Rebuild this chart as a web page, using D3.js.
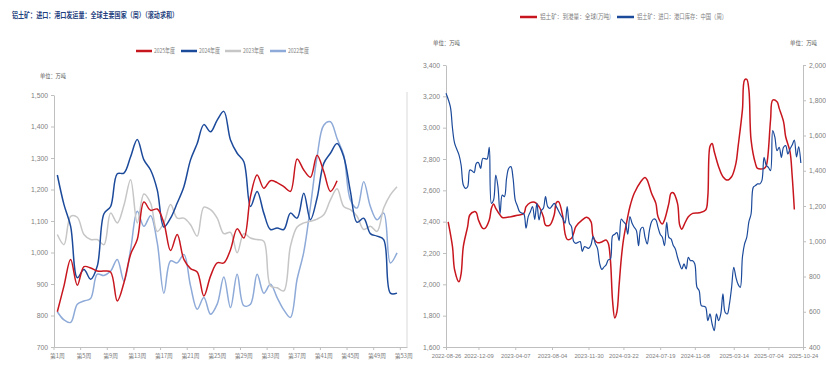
<!DOCTYPE html>
<html>
<meta charset='utf-8'>
<head>
<title>铝土矿</title>
<script src='https://d3js.org/d3.v7.min.js'></script>
<style>
body { margin: 0; background: #fff; }
text { font-family: 'Liberation Sans Narrow', 'Liberation Sans', sans-serif; fill: #808080; }
.cn { font-family: 'Noto Sans CJK SC', sans-serif; }
.axis path, .axis line { stroke: #bfbfbf; }
</style>
</head>
<body>
<svg id='chart' width='826' height='373'></svg>
<script>
// ---- left chart: weekly shipments by year ----
var weeks = d3.range(1, 54)
var weekTicks = [1, 5, 9, 13, 17, 21, 25, 29, 33, 37, 41, 45, 49, 53]
var leftTicks = [700, 800, 900, 1000, 1100, 1200, 1300, 1400, 1500]
var yearNames = ['2025年度', '2024年度', '2023年度', '2022年度']

var s2025 = [812, 894, 978, 896, 955, 951, 941, 941, 938, 846, 904, 994, 1041, 1160, 1134, 1138, 1094, 1006, 1057, 978,
  949, 938, 862, 925, 967, 967, 1009, 1075, 1046, 1178, 1246, 1204, 1228, 1222, 1209, 1194, 1297, 1262, 1239, 1309,
  1257, 1194, 1228]
var s2024 = [1246, 1152, 1083, 920, 946, 915, 957, 1123, 1146, 1250, 1252, 1304, 1359, 1294, 1262, 1199, 1081, 1109, 1157, 1209,
  1294, 1346, 1406, 1383, 1420, 1448, 1357, 1315, 1288, 1146, 1194, 1125, 1073, 1078, 1073, 1125, 1109, 1188, 1104, 1173,
  1283, 1315, 1346, 1304, 1194, 1096, 1109, 1060, 1052, 1041, 871, 871]
var s2023 = [1057, 1025, 1115, 1112, 1057, 1041, 1041, 1025, 1125, 1094, 1150, 1231, 1094, 1186, 1157, 1067, 1094, 1152, 1109, 1109,
  1088, 1052, 1144, 1136, 1109, 1060, 1064, 999, 1060, 1046, 1041, 1036, 894, 888, 878, 1020, 1081, 1094, 1099, 1106,
  1120, 1167, 1202, 1146, 1136, 1115, 1073, 1083, 1067, 1141, 1183, 1209]
var s2022 = [812, 786, 778, 836, 846, 854, 931, 927, 941, 978, 909, 1009, 1131, 1083, 1117, 1031, 871, 973, 967, 994,
  894, 820, 857, 804, 836, 922, 825, 931, 831, 836, 931, 871, 899, 857, 818, 794, 915, 1001, 1146, 1304,
  1404, 1415, 1362, 1309, 1167, 1141, 1225, 1146, 1104, 1125, 967, 999]

// ---- right chart: arrivals (right axis) and China port stock (left axis) ----
// points are [weeks since start date, value]
var startDate = '2022-08-26'
var endDate = '2025-10-24'
var dateTicks = ['2022-08-26', '2022-12-09', '2023-04-07', '2023-08-04', '2023-11-30', '2024-03-22',
  '2024-07-19', '2024-11-08', '2025-03-14', '2025-07-04', '2025-10-24']
var stockTicks = [1600, 1800, 2000, 2200, 2400, 2600, 2800, 3000, 3200, 3400]
var arrivalTicks = [400, 600, 800, 1000, 1200, 1400, 1600, 1800, 2000]
var seriesNames = ['铝土矿：到港量：全球(万吨)', '铝土矿：进口：港口库存：中国（周）']

var arrivals = [[1,1110],[3,969],[4,837],[6,770],[7,817],[8,969],[10,1083],[11,1149],[13,1168],[14,1163],[15,1121],
  [17,1073],[18,1073],[20,1121],[21,1187],[22,1211],[23,1187],[25,1149],[26,1135],[30,1139],[33,1147],[36,1158],
  [37,1196],[39,1219],[41,1221],[43,1196],[45,1139],[46,1092],[48,1092],[50,1149],[51,1219],[52,1225],[54,1139],
  [55,1045],[56,1011],[58,1017],[59,1045],[60,1083],[63,1121],[65,1136],[67,1111],[68,1026],[70,992],[72,996],
  [74,1007],[75,988],[76,893],[77,660],[78,565],[79,600],[80,750],[81,900],[82,1007],[84,1139],[85,1196],[87,1272],
  [90,1338],[92,1362],[93,1347],[95,1272],[97,1215],[98,1139],[100,1098],[101,1121],[103,1215],[104,1272],[105,1275],
  [107,1215],[108,1092],[109,1068],[110,1092],[112,1139],[114,1158],[117,1162],[120,1177],[121,1253],[122,1537],
  [123,1555],[124,1508],[126,1423],[128,1366],[130,1347],[132,1366],[134,1442],[135,1537],[137,1745],[138,1915],
  [139,1919],[140,1858],[141,1575],[143,1442],[144,1413],[147,1413],[148,1427],[150,1688],[151,1801],[153,1792],
  [154,1754],[156,1679],[157,1593],[159,1508],[160,1370],[161,1180]]
var stock = [[0,3220],[2,3134],[3,2996],[4,2900],[6,2826],[7,2760],[8,2634],[9,2613],[10,2623],[11,2730],[12,2725],
  [13,2713],[14,2772],[15,2777],[16,2740],[17,2804],[18,2802],[19,2800],[20,2875],[21,2517],[22,2538],[23,2698],
  [24,2624],[25,2453],[26,2570],[27,2560],[28,2677],[29,2741],[30,2751],[31,2677],[32,2538],[33,2500],[34,2464],
  [35,2455],[36,2449],[37,2358],[38,2432],[39,2464],[40,2496],[41,2415],[42,2517],[43,2411],[44,2470],[45,2485],
  [46,2560],[47,2496],[48,2485],[49,2500],[50,2517],[51,2496],[53,2443],[54,2420],[55,2390],[56,2496],[57,2390],
  [58,2368],[59,2273],[60,2262],[61,2268],[62,2273],[63,2210],[64,2241],[65,2235],[66,2230],[67,2251],[68,2305],
  [69,2260],[70,2230],[71,2134],[72,2096],[73,2110],[74,2124],[75,2156],[76,2162],[77,2310],[78,2320],[79,2330],
  [80,2279],[81,2417],[82,2400],[83,2385],[84,2321],[85,2432],[86,2390],[87,2364],[88,2343],[89,2247],[90,2353],
  [91,2364],[92,2300],[93,2258],[94,2343],[95,2400],[96,2417],[97,2411],[98,2364],[99,2320],[100,2300],[101,2247],
  [102,2396],[103,2300],[104,2290],[105,2250],[106,2226],[107,2173],[108,2130],[109,2098],[110,2130],[111,2098],
  [112,2173],[113,2151],[114,2151],[115,2130],[116,1981],[117,1960],[118,1864],[119,1860],[120,1854],[121,1768],
  [122,1811],[123,1747],[124,1704],[125,1811],[126,1768],[127,1811],[128,1939],[129,1822],[130,1811],[131,1875],
  [132,1981],[133,2109],[134,2045],[135,2000],[136,1981],[137,2173],[138,2258],[139,2300],[140,2400],[141,2449],
  [142,2619],[143,2630],[144,2641],[145,2641],[146,2662],[147,2811],[148,2760],[149,2747],[150,2726],[151,2981],
  [152,2939],[153,2853],[154,2875],[155,2811],[156,2875],[157,2885],[158,2832],[159,2864],[160,2889],[161,2921],
  [162,2813],[163,2877],[164,2774]]

var red = '#c8161e', blue = '#1c4a9b', grey = '#c6c6c6', lightBlue = '#8eaad8'
var svg = d3.select('#chart')
var fmt = d3.format(',')

// ================= left chart =================
var x = d3.scaleBand().domain(weeks).range([54, 407])
var bw = x.bandwidth()
var y = d3.scaleLinear().domain([700, 1500]).range([347, 95])

svg.append('text')
  .attr('class', 'cn')
  .attr('x', 12).attr('y', 18)
  .attr('textLength', 166).attr('lengthAdjust', 'spacingAndGlyphs')
  .style('font-size', '7.5px').style('font-weight', 'bold').style('fill', '#1f3f80')
  .text('铝土矿：进口：港口发运量：全球主要国家（周）（滚动求和）')

svg.append('text').attr('class', 'cn')
  .attr('x', 40).attr('y', 78)
  .attr('textLength', 26).attr('lengthAdjust', 'spacingAndGlyphs')
  .style('font-size', '5.5px').style('fill', '#555')
  .text('单位：万吨')

// right frame line
svg.append('line')
  .attr('x1', 407).attr('x2', 407).attr('y1', 92).attr('y2', 347)
  .style('stroke', '#d9d9d9')

var gy = svg.append('g').attr('class', 'axis')
  .attr('transform', 'translate(54,0)')
  .call(d3.axisLeft(y).tickValues(leftTicks).tickSize(3).tickSizeOuter(0).tickFormat(fmt))
gy.selectAll('text').style('font-size', '6.8px').style('fill', '#808080')

var gx = svg.append('g').attr('class', 'axis')
  .attr('transform', 'translate(0,347)')
  .call(d3.axisBottom(x).tickValues(weekTicks).tickSize(3).tickSizeOuter(0).tickFormat(function(d) { return '第' + d + '周' }))
gx.selectAll('.tick line').attr('x1', -bw / 2).attr('x2', -bw / 2)
gx.selectAll('text').attr('class', 'cn').attr('dy', '0.9em').style('font-size', '5.8px').style('fill', '#808080')

var weekLine = d3.line()
  .x(function(d, i) { return x(i + 1) + bw / 2 })
  .y(function(d) { return y(d) })
  .curve(d3.curveCatmullRom.alpha(0.5))

var years = [
  {values: s2022, color: lightBlue},
  {values: s2023, color: grey},
  {values: s2024, color: blue},
  {values: s2025, color: red}
]
svg.selectAll('.yearLine')
  .data(years)
  .enter()
  .append('path')
  .attr('class', 'yearLine')
  .attr('d', function(d) { return weekLine(d.values) })
  .style('fill', 'none')
  .style('stroke', function(d) { return d.color })
  .style('stroke-width', 1.5)

var legendColors = [red, blue, grey, lightBlue]
var legendX = [136, 181, 225, 270]
var lg = svg.selectAll('.yearLegend')
  .data(yearNames)
  .enter()
  .append('g')
  .attr('class', 'yearLegend')
  .attr('transform', function(d, i) { return 'translate(' + legendX[i] + ',51)' })
lg.append('line')
  .attr('x1', 0).attr('x2', 16)
  .style('stroke', function(d, i) { return legendColors[i] })
  .style('stroke-width', 2.5)
lg.append('text').attr('class', 'cn')
  .attr('x', 18).attr('y', 2.4)
  .attr('textLength', 21).attr('lengthAdjust', 'spacingAndGlyphs')
  .style('font-size', '6.5px').style('fill', '#808080')
  .text(function(d) { return d })

// ================= right chart =================
var parse = d3.timeParse('%Y-%m-%d')
var t0 = parse(startDate)
var xt = d3.scaleTime().domain([t0, parse(endDate)]).range([446, 803])
var yl = d3.scaleLinear().domain([1600, 3400]).range([347, 65])
var yr = d3.scaleLinear().domain([400, 2000]).range([347, 65])
function wk(w) { return d3.timeDay.offset(t0, w * 7) }

var gl = svg.append('g').attr('class', 'axis')
  .attr('transform', 'translate(446,0)')
  .call(d3.axisLeft(yl).tickValues(stockTicks).tickSize(3).tickSizeOuter(0).tickFormat(fmt))
gl.selectAll('text').style('font-size', '6.8px').style('fill', '#808080')

var gr = svg.append('g').attr('class', 'axis')
  .attr('transform', 'translate(803,0)')
  .call(d3.axisRight(yr).tickValues(arrivalTicks).tickSize(3).tickSizeOuter(0).tickFormat(fmt))
gr.selectAll('text').style('font-size', '6.8px').style('fill', '#808080')

var gb = svg.append('g').attr('class', 'axis')
  .attr('transform', 'translate(0,347)')
  .call(d3.axisBottom(xt).tickValues(dateTicks.map(parse)).tickSize(3).tickSizeOuter(0).tickFormat(d3.timeFormat('%Y-%m-%d')))
gb.selectAll('text').attr('dy', '0.9em').style('font-size', '5.8px').style('fill', '#808080')

svg.append('text').attr('class', 'cn')
  .attr('x', 433).attr('y', 45)
  .attr('textLength', 27).attr('lengthAdjust', 'spacingAndGlyphs')
  .style('font-size', '5.5px').style('fill', '#555')
  .text('单位：万吨')
svg.append('text').attr('class', 'cn')
  .attr('x', 790).attr('y', 45)
  .attr('textLength', 27).attr('lengthAdjust', 'spacingAndGlyphs')
  .style('font-size', '5.5px').style('fill', '#555')
  .text('单位：万吨')

var stockLine = d3.line()
  .x(function(d) { return xt(wk(d[0])) })
  .y(function(d) { return yl(d[1]) })
  .curve(d3.curveCatmullRom.alpha(0.5))
var arrivalLine = d3.line()
  .x(function(d) { return xt(wk(d[0])) })
  .y(function(d) { return yr(d[1]) })
  .curve(d3.curveCatmullRom.alpha(0.5))

svg.append('path')
  .attr('d', arrivalLine(arrivals))
  .style('fill', 'none').style('stroke', red).style('stroke-width', 1.5)
svg.append('path')
  .attr('d', stockLine(stock))
  .style('fill', 'none').style('stroke', blue).style('stroke-width', 1.2)

var rlX = [520, 617]
var rlLen = [71, 90]
var rlColors = [red, blue]
var rl = svg.selectAll('.serLegend')
  .data(seriesNames)
  .enter()
  .append('g')
  .attr('class', 'serLegend')
  .attr('transform', function(d, i) { return 'translate(' + rlX[i] + ',17)' })
rl.append('line')
  .attr('x1', 0).attr('x2', 17)
  .style('stroke', function(d, i) { return rlColors[i] })
  .style('stroke-width', 2.5)
rl.append('text').attr('class', 'cn')
  .attr('x', 20).attr('y', 2.4)
  .attr('textLength', function(d, i) { return rlLen[i] }).attr('lengthAdjust', 'spacingAndGlyphs')
  .style('font-size', '6.5px').style('fill', '#808080')
  .text(function(d) { return d })
</script>
</body>
</html>
